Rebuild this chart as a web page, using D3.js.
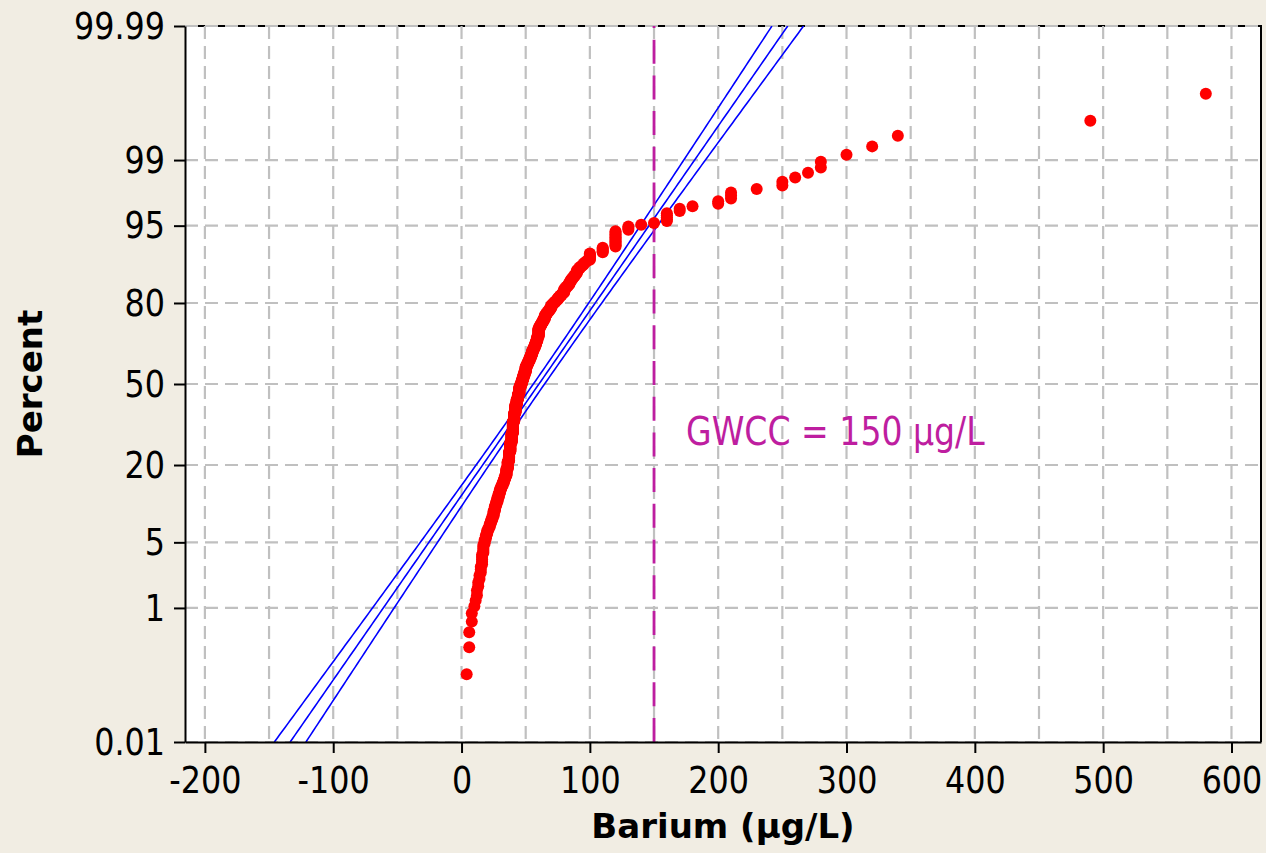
<!DOCTYPE html>
<html>
<head>
<meta charset="utf-8">
<script src="https://cdn.jsdelivr.net/npm/d3@7"></script>
<style>
  html, body { margin: 0; padding: 0; background: #f1ede3; }
  svg { display: block; }
</style>
</head>
<body>
<svg id="chart" width="1266" height="853"></svg>
<script>
// Barium concentrations (µg/L): reported levels and the number of samples at each level
const bariumLevels = [
  4, 6, 8, 10, 11, 12, 13, 14,
  15, 16, 17, 18, 19, 20, 21, 22, 23, 24,
  25, 26, 27, 28, 29, 30, 31, 32, 33, 34,
  35, 36, 37, 38, 39, 40, 41, 42, 43, 44,
  45, 46, 47, 48, 49, 50, 51, 52, 53, 54,
  55, 56, 57, 58, 59, 60, 61, 62, 63, 64,
  65, 66, 67, 68, 69, 70, 71, 72, 73, 74,
  75, 76, 77, 78, 79, 80, 81, 82, 83, 84,
  85, 86, 87, 88, 89, 90, 91, 92, 93, 94,
  95, 96, 97, 98,
  100, 110, 120, 130, 140, 150, 160, 170, 180, 200,
  210, 230, 250, 260, 270, 280, 300, 320, 340, 490, 580
];
const bariumCounts = [
  1, 2, 2, 1, 1, 2, 2, 2,
  3, 5, 5, 3, 3, 3, 2, 3, 3, 3,
  5, 5, 4, 5, 5, 5, 4, 4, 5, 5,
  10, 12, 16, 17, 18, 24, 18, 18, 12, 12,
  15, 8, 9, 9, 9, 12, 6, 6, 7, 7,
  8, 6, 7, 7, 9, 17, 5, 4, 4, 5,
  6, 3, 3, 3, 3, 5, 2, 2, 2, 2,
  3, 2, 2, 2, 2, 5, 2, 2, 2, 3,
  3, 2, 2, 2, 2, 4, 1, 2, 1, 1,
  2, 1, 1, 1,
  7, 5, 12, 3, 1, 1, 5, 2, 1, 2,
  3, 1, 2, 1, 1, 2, 1, 1, 1, 1, 1
];

// Axis ticks
const percentTicks = [0.01, 1, 5, 20, 50, 80, 95, 99, 99.99];
const percentLabels = ["0.01", "1", "5", "20", "50", "80", "95", "99", "99.99"];
const bariumTicks = [-200, -100, 0, 100, 200, 300, 400, 500, 600];
const bariumGrid = d3.range(-200, 601, 50);

// Groundwater comparison criterion
const gwcc = 150;
const gwccLabel = "GWCC = 150 µg/L";

// Inverse standard normal CDF (Acklam's rational approximation)
function qnorm(p) {
  const a = [-3.969683028665376e+01, 2.209460984245205e+02, -2.759285104469687e+02,
             1.383577518672690e+02, -3.066479806614716e+01, 2.506628277459239e+00];
  const b = [-5.447609879822406e+01, 1.615858368580409e+02, -1.556989798598866e+02,
             6.680131188771972e+01, -1.328068155288572e+01];
  const c = [-7.784894002430293e-03, -3.223964580411365e-01, -2.400758277161838e+00,
             -2.549732539343734e+00, 4.374664141464968e+00, 2.938163982698783e+00];
  const d = [7.784695709041462e-03, 3.224671290700398e-01, 2.445134137142996e+00,
             3.754408661907416e+00];
  const pl = 0.02425;
  let q, r;
  if (p < pl) {
    q = Math.sqrt(-2 * Math.log(p));
    return (((((c[0]*q+c[1])*q+c[2])*q+c[3])*q+c[4])*q+c[5]) / ((((d[0]*q+d[1])*q+d[2])*q+d[3])*q+1);
  }
  if (p <= 1 - pl) {
    q = p - 0.5; r = q * q;
    return (((((a[0]*r+a[1])*r+a[2])*r+a[3])*r+a[4])*r+a[5])*q / (((((b[0]*r+b[1])*r+b[2])*r+b[3])*r+b[4])*r+1);
  }
  q = Math.sqrt(-2 * Math.log(1 - p));
  return -(((((c[0]*q+c[1])*q+c[2])*q+c[3])*q+c[4])*q+c[5]) / ((((d[0]*q+d[1])*q+d[2])*q+d[3])*q+1);
}

// Sorted sample with median-rank plotting positions
const sample = [];
bariumLevels.forEach((v, i) => { for (let k = 0; k < bariumCounts[i]; k++) sample.push(v); });
sample.sort((a, b) => a - b);
const n = sample.length;
const points = sample.map((v, i) => ({ v, z: qnorm((i + 1 - 0.3) / (n + 0.4)) }));

// Normal fit and 95% confidence bounds for the percentiles
const mu = d3.mean(sample);
const sigma = d3.deviation(sample);
const zTop = qnorm(0.9999);
const zs = d3.range(0, 201).map(i => -zTop + (2 * zTop) * i / 200);
const half = z => 1.96 * sigma * Math.sqrt((1 + z * z / 2) / n);

// Layout
const plot = { left: 185, right: 1261, top: 26, bottom: 742 };
const x = d3.scaleLinear().domain([-215.5, 623]).range([plot.left, plot.right]);
const y = d3.scaleLinear().domain([-zTop, zTop]).range([plot.bottom, plot.top]);

const svg = d3.select("#chart");
const font = "'DejaVu Sans', Verdana, sans-serif";
const condense = 0.86;

svg.append("rect").attr("width", 1266).attr("height", 853).attr("fill", "#f1ede3");
svg.append("rect")
  .attr("x", plot.left).attr("y", plot.top)
  .attr("width", plot.right - plot.left).attr("height", plot.bottom - plot.top)
  .attr("fill", "#ffffff");

svg.append("defs").append("clipPath").attr("id", "plotClip")
  .append("rect")
  .attr("x", plot.left).attr("y", plot.top)
  .attr("width", plot.right - plot.left).attr("height", plot.bottom - plot.top);

// Top and right frame
svg.append("path")
  .attr("d", `M${plot.left},${plot.top}H${plot.right}V${plot.bottom}`)
  .attr("fill", "none").attr("stroke", "#000").attr("stroke-width", 2);

// Grid
const grid = svg.append("g").attr("stroke", "#c0c0c0").attr("stroke-width", 2.2)
  .attr("stroke-dasharray", "13,7");
grid.selectAll("line.v").data(bariumGrid).join("line").attr("class", "v")
  .attr("x1", d => x(d)).attr("x2", d => x(d))
  .attr("y1", plot.top).attr("y2", plot.bottom);
grid.selectAll("line.h").data(percentTicks).join("line").attr("class", "h")
  .attr("x1", plot.left).attr("x2", plot.right)
  .attr("y1", d => y(qnorm(d / 100))).attr("y2", d => y(qnorm(d / 100)));

// Fitted line and confidence bounds
const fitGroup = svg.append("g").attr("clip-path", "url(#plotClip)");
const lineGen = f => d3.line().x(z => x(f(z))).y(z => y(z))(zs);
[z => mu + z * sigma - half(z), z => mu + z * sigma, z => mu + z * sigma + half(z)]
  .forEach(f => {
    fitGroup.append("path").attr("d", lineGen(f))
      .attr("fill", "none").attr("stroke", "#0000ff").attr("stroke-width", 1.6);
  });

// GWCC reference line
svg.append("line")
  .attr("x1", x(gwcc)).attr("x2", x(gwcc))
  .attr("y1", plot.bottom).attr("y2", plot.top)
  .attr("stroke", "#be1ea0").attr("stroke-width", 2.8)
  .attr("stroke-dasharray", "24,11.7");

// Data points
svg.append("g").attr("clip-path", "url(#plotClip)")
  .selectAll("circle").data(points).join("circle")
  .attr("cx", d => x(d.v)).attr("cy", d => y(d.z)).attr("r", 6)
  .attr("fill", "#ff0000");

// GWCC label
svg.append("text")
  .attr("transform", `translate(686,445) scale(${condense},1)`)
  .attr("font-family", font).attr("font-size", 38.5).attr("fill", "#be1ea0")
  .text(gwccLabel);

// Axes
const yAxis = d3.axisLeft(y)
  .tickValues(percentTicks.map(p => qnorm(p / 100)))
  .tickFormat((d, i) => percentLabels[i])
  .tickSize(11).tickSizeOuter(0).tickPadding(9);
const yg = svg.append("g").attr("transform", `translate(${plot.left},0)`).call(yAxis);
yg.select(".domain").attr("stroke", "#000").attr("stroke-width", 2);
yg.selectAll(".tick line").attr("stroke", "#000").attr("stroke-width", 2);
yg.selectAll(".tick text")
  .attr("font-family", font).attr("font-size", 37).attr("fill", "#000")
  .attr("x", -20 / condense).attr("dy", "0.33em")
  .attr("transform", `scale(${condense},1)`);

const xAxis = d3.axisBottom(x)
  .tickValues(bariumTicks).tickFormat(d3.format("d"))
  .tickSize(11).tickSizeOuter(0).tickPadding(14);
const xg = svg.append("g").attr("transform", `translate(0,${plot.bottom})`).call(xAxis);
xg.select(".domain").attr("stroke", "#000").attr("stroke-width", 2);
xg.selectAll(".tick line").attr("stroke", "#000").attr("stroke-width", 2);
xg.selectAll(".tick text")
  .attr("font-family", font).attr("font-size", 37).attr("fill", "#000")
  .attr("transform", `scale(${condense},1)`)
  .text(d => d < 0 ? "-" + Math.abs(d) : String(d));

// Axis titles
svg.append("text")
  .attr("x", (plot.left + plot.right) / 2).attr("y", 838)
  .attr("text-anchor", "middle")
  .attr("font-family", font).attr("font-weight", "bold").attr("font-size", 34)
  .text("Barium (µg/L)");
svg.append("text")
  .attr("transform", `translate(42,${(plot.top + plot.bottom) / 2}) rotate(-90)`)
  .attr("text-anchor", "middle")
  .attr("font-family", font).attr("font-weight", "bold").attr("font-size", 34)
  .text("Percent");
</script>
</body>
</html>
